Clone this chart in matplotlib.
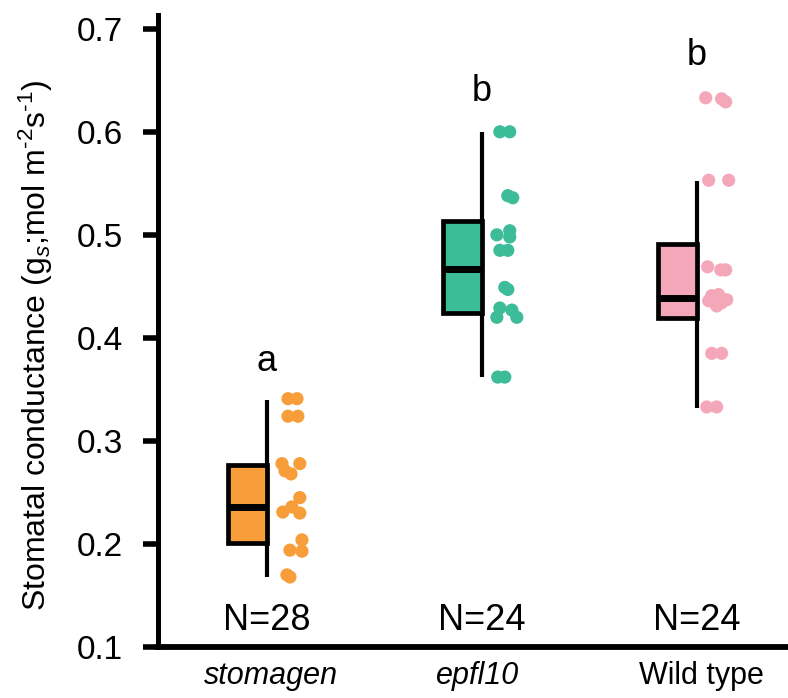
import matplotlib
matplotlib.use("Agg")
import matplotlib.pyplot as plt

plt.rcParams['font.family'] = ['Liberation Sans', 'DejaVu Sans']
plt.rcParams['mathtext.fontset'] = 'custom'
plt.rcParams['mathtext.rm'] = 'Liberation Sans'
plt.rcParams['mathtext.it'] = 'Liberation Sans:italic'

# groups and summary stats
groups = ['stomagen', 'epfl10', 'Wild type']
n_labels = ['N=28', 'N=24', 'N=24']
sig_letters = ['a', 'b', 'b']
letter_y = [0.377, 0.639, 0.674]
q1 = [0.201, 0.424, 0.419]
med = [0.236, 0.467, 0.439]
q3 = [0.277, 0.513, 0.491]
whis_lo = [0.168, 0.362, 0.332]
whis_hi = [0.340, 0.600, 0.552]
colors = ['#F79D3A', '#3CBC98', '#F5A7BA']

# individual points (values) and their horizontal jitter
stomagen_vals = [0.341, 0.341, 0.324, 0.324, 0.278, 0.278, 0.271, 0.268, 0.245,
                 0.231, 0.236, 0.230, 0.204, 0.194, 0.193, 0.170, 0.168]
stomagen_jit = [0.098, 0.140, 0.098, 0.144, 0.070, 0.153, 0.084, 0.112, 0.153,
                0.074, 0.116, 0.153, 0.163, 0.107, 0.163, 0.093, 0.107]
epfl10_vals = [0.600, 0.600, 0.538, 0.536, 0.500, 0.504, 0.498, 0.485, 0.485,
               0.449, 0.447, 0.429, 0.420, 0.427, 0.420, 0.362, 0.362]
epfl10_jit = [0.084, 0.130, 0.121, 0.144, 0.070, 0.130, 0.130, 0.084, 0.121,
              0.107, 0.121, 0.084, 0.070, 0.140, 0.163, 0.074, 0.107]
wt_vals = [0.633, 0.632, 0.629, 0.553, 0.553, 0.469, 0.466, 0.466, 0.441,
           0.442, 0.437, 0.436, 0.431, 0.434, 0.385, 0.385, 0.333, 0.333]
wt_jit = [0.042, 0.116, 0.135, 0.056, 0.149, 0.051, 0.112, 0.135, 0.070,
          0.102, 0.140, 0.056, 0.093, 0.116, 0.070, 0.116, 0.047, 0.093]

points = [(stomagen_vals, stomagen_jit), (epfl10_vals, epfl10_jit), (wt_vals, wt_jit)]

fig = plt.figure(figsize=(7.88, 6.98), dpi=100)
ax = fig.add_axes([0.2005, 0.073, 0.7995, 0.905])

box_w = 0.18
for i in range(len(groups)):
    # whisker line on the right edge of the half box
    ax.vlines(i, whis_lo[i], whis_hi[i], color='black', lw=3.0, zorder=2)
    ax.bar(i, q3[i] - q1[i], bottom=q1[i], width=-box_w, align='edge',
           color=colors[i], edgecolor='black', linewidth=3.4, zorder=3)
    ax.hlines(med[i], i - box_w, i, color='black', lw=5, zorder=4)
    vals, jit = points[i]
    ax.scatter([i + j for j in jit], vals, s=90, color=colors[i],
               edgecolors='none', zorder=3)
    ax.text(i, letter_y[i], sig_letters[i], ha='center', va='center', fontsize=26)
    ax.text(i, 0.126, n_labels[i], ha='center', va='center', fontsize=26)

ax.set_xlim(-0.507, 2.425)
ax.set_ylim(0.1, 0.713)
ax.set_yticks([0.1, 0.2, 0.3, 0.4, 0.5, 0.6, 0.7])
ax.set_yticklabels(['0.1', '0.2', '0.3', '0.4', '0.5', '0.6', '0.7'])
ax.set_xticks([0.02, 0.98, 2.02])
ax.set_xticklabels(groups)
for lab in ax.get_xticklabels()[:2]:
    lab.set_style('italic')

ax.tick_params(axis='y', length=11, width=4, labelsize=24, pad=14)
ax.tick_params(axis='x', length=0, labelsize=22, pad=10)
for side in ['top', 'right']:
    ax.spines[side].set_visible(False)
ax.spines['left'].set_linewidth(3.6)
ax.spines['bottom'].set_linewidth(4.2)

# hyphen (U+2010) instead of math minus in the exponents
ax.set_ylabel('Stomatal conductance (g$_s$;mol m$^{\u20102}$s$^{\u20101}$)', fontsize=23)
ax.yaxis.set_label_coords(-0.163, 0.478)

fig.savefig('out.png', dpi=100)
